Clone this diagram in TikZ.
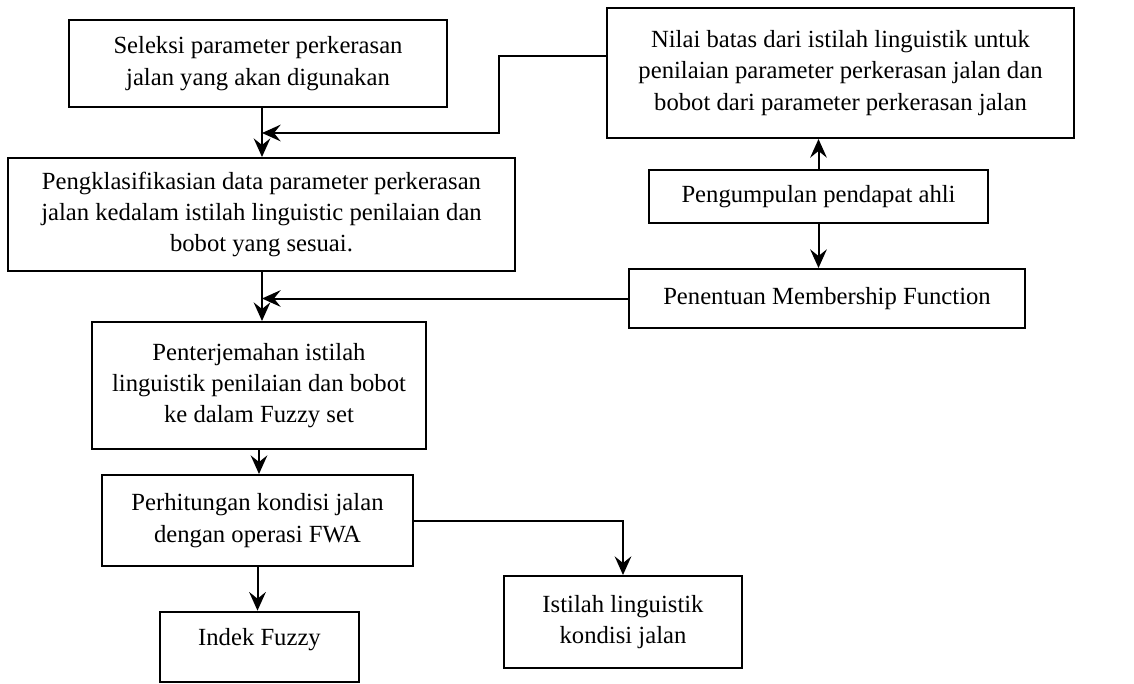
\documentclass[tikz,border=0pt]{standalone}
\usepackage{fontspec}
\setmainfont{Liberation Serif}
\usetikzlibrary{arrows.meta}

\tikzset{
  kotak/.style={draw, line width=1.5pt, align=center, inner sep=0.75pt, font=\fontsize{18.5}{23.5}\selectfont},
  panah/.style={line width=1.5pt, -{Stealth[length=14pt,width=12.5pt,inset=5pt]}}
}

\begin{document}
\begin{tikzpicture}[x=0.75pt,y=0.75pt,yscale=-1,xscale=1]
\useasboundingbox (0,0) rectangle (1134,683);

% Kotak kiri
\node[kotak, minimum width=283.5pt, minimum height=65.25pt] (seleksi) at (258,63.5)
  {Seleksi parameter perkerasan\\jalan yang akan digunakan};
\node[kotak, minimum width=380.25pt, minimum height=84.75pt] (klasifikasi) at (261.5,214.5)
  {Pengklasifikasian data parameter perkerasan\\jalan kedalam istilah linguistic penilaian dan\\bobot yang sesuai.};
\node[kotak, minimum width=250.5pt, minimum height=95.25pt] (terjemah) at (259,385.5)
  {Penterjemahan istilah\\linguistik penilaian dan bobot\\ke dalam Fuzzy set};
\node[kotak, minimum width=233.25pt, minimum height=68.25pt] (hitung) at (257.5,520.5)
  {Perhitungan kondisi jalan\\dengan operasi FWA};
\node[kotak, minimum width=149.25pt, minimum height=53pt, text depth=15pt] (indek) at (259.5,647)
  {Indek Fuzzy};

% Kotak kanan
\node[kotak, minimum width=350.25pt, minimum height=97.5pt] (nilai) at (840.5,73)
  {Nilai batas dari istilah linguistik untuk\\penilaian parameter perkerasan jalan dan\\bobot dari parameter perkerasan jalan};
\node[kotak, minimum width=254.25pt, minimum height=39.75pt] (pengumpulan) at (818.5,196.5)
  {Pengumpulan pendapat ahli};
\node[kotak, minimum width=297pt, minimum height=44.25pt] (penentuan) at (827,298.5)
  {Penentuan Membership Function};
\node[kotak, minimum width=178.5pt, minimum height=69pt] (istilah) at (623,622)
  {Istilah linguistik\\kondisi jalan};

% Titik pertemuan
\coordinate (j1) at (262,133);
\coordinate (j2) at (262,298.5);
\coordinate (belok) at (499,133);

% Panah utama
\draw[panah] (seleksi.south -| j1) -- (j1 |- klasifikasi.north);
\draw[panah] (klasifikasi.south -| j2) -- (j2 |- terjemah.north);
\draw[panah] (terjemah.south) -- (terjemah.south |- hitung.north);
\draw[panah] (hitung.south) -- (hitung.south |- indek.north);
\draw[panah] (hitung.east) -| (istilah.north);

% Panah kanan
\draw[panah] (pengumpulan.north) -- (pengumpulan.north |- nilai.south);
\draw[panah] (pengumpulan.south) -- (pengumpulan.south |- penentuan.north);
\draw[panah] (nilai.west |- 0,56) -| (belok) -- (j1);
\draw[panah] (penentuan.west) -- (j2);

\end{tikzpicture}
\end{document}
